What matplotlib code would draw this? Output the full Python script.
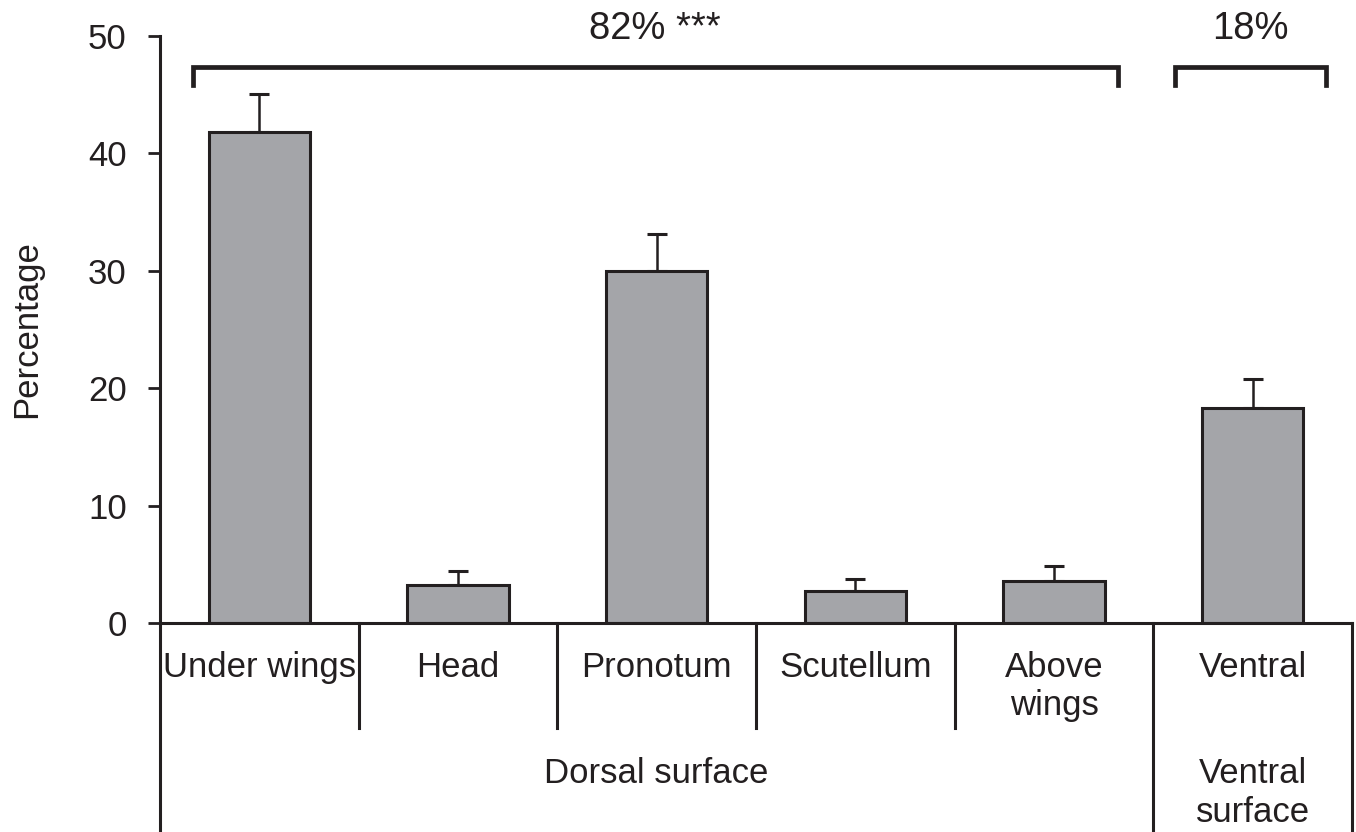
import matplotlib.pyplot as plt
import numpy as np

plt.rcParams['font.family'] = ['Liberation Sans', 'DejaVu Sans']
plt.rcParams['text.color'] = '#231f20'
plt.rcParams['ytick.labelcolor'] = '#231f20'
plt.rcParams['axes.labelcolor'] = '#231f20'

# data
categories = ['Under wings', 'Head', 'Pronotum', 'Scutellum', 'Above\nwings', 'Ventral']
means = [41.8, 3.2, 30.0, 2.7, 3.6, 18.3]
errs = [3.3, 1.2, 3.1, 1.05, 1.25, 2.5]
groups = ['Dorsal surface', 'Ventral\nsurface']
group_pct = ['82% ***', '18%']

fig = plt.figure(figsize=(13.56, 8.32), dpi=100)
ax = fig.add_axes([160 / 1356, 209 / 832, 1192 / 1356, 587 / 832])

lc = '#231f20'
x = np.arange(len(categories))
ax.bar(x, means, width=0.51, color='#a4a5a9', edgecolor=lc, linewidth=2.2, zorder=2)
ax.errorbar(x, means, yerr=[np.zeros(len(errs)), errs], fmt='none',
            ecolor=lc, elinewidth=1.8, capsize=7, capthick=2.2, zorder=1)

ax.set_xlim(-0.5, 5.5)
ax.set_ylim(0, 50)
ax.set_yticks([0, 10, 20, 30, 40, 50])
ax.tick_params(axis='y', labelsize=25, length=9, width=2, color=lc, pad=15)
ax.set_xticks([])
for s in ['top', 'right']:
    ax.spines[s].set_visible(False)
ax.spines['left'].set_linewidth(2.2)
ax.spines['bottom'].set_linewidth(2.2)
ax.spines['left'].set_color(lc)
ax.spines['bottom'].set_color(lc)
ax.set_ylabel('Percentage', fontsize=25, labelpad=32)

tr = ax.get_xaxis_transform()
# extend left spine and right border below the axis
ax.plot([-0.5, -0.5], [0, -0.36], transform=tr, color=lc, lw=2.2, clip_on=False)
ax.plot([5.5, 5.5], [0, -0.36], transform=tr, color=lc, lw=2.2, clip_on=False)
# separators
for sx in [0.5, 1.5, 2.5, 3.5]:
    ax.plot([sx, sx], [0, -0.179], transform=tr, color=lc, lw=2.2, clip_on=False)
ax.plot([4.5, 4.5], [0, -0.36], transform=tr, color=lc, lw=2.2, clip_on=False)

# category labels
for xi, lab in zip(x, categories):
    ax.text(xi, -0.047, lab, transform=tr, ha='center', va='top', fontsize=25,
            linespacing=1.2, clip_on=False)
ax.text(2, -0.229, groups[0], transform=tr, ha='center', va='top', fontsize=25, clip_on=False)
ax.text(5, -0.229, groups[1], transform=tr, ha='center', va='top', fontsize=25,
        linespacing=1.2, clip_on=False)

# significance brackets
brackets = [(-0.334, 4.32), (4.61, 5.37)]
for (x0, x1), lab in zip(brackets, group_pct):
    ax.plot([x0, x0, x1, x1], [45.8, 47.4, 47.4, 45.8], color=lc, lw=3.4,
            clip_on=False, solid_joinstyle='miter')
    ax.text((x0 + x1) / 2, 49.75, lab, ha='center', va='baseline', fontsize=27.5,
            clip_on=False)

fig.savefig('out.png', dpi=100)
